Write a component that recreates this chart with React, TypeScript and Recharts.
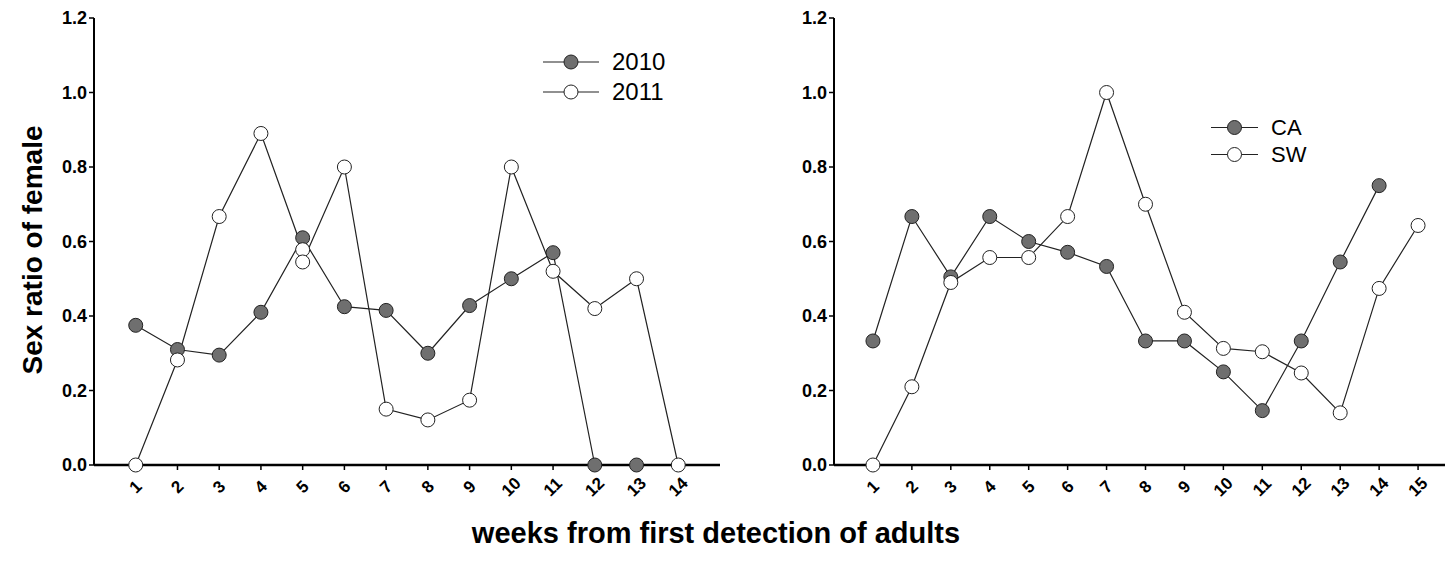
import { LineChart, Line, XAxis, YAxis, Legend } from "recharts";

// left panel: years
const weeks2010 = [1, 2, 3, 4, 5, 6, 7, 8, 9, 10, 11, 12, 13];
const ratio2010 = [0.375, 0.31, 0.295, 0.41, 0.61, 0.425, 0.415, 0.3, 0.428, 0.5, 0.57, 0, 0];
const weeks2011 = [1, 2, 3, 4, 5, 5, 6, 7, 8, 9, 10, 11, 12, 13, 14];
const ratio2011 = [0, 0.282, 0.667, 0.89, 0.578, 0.545, 0.8, 0.15, 0.121, 0.174, 0.8, 0.52, 0.42, 0.5, 0];

// right panel: sites
const weeksCA = [1, 2, 3, 4, 5, 6, 7, 8, 9, 10, 11, 12, 13, 14];
const ratioCA = [0.333, 0.667, 0.505, 0.667, 0.6, 0.571, 0.533, 0.333, 0.333, 0.25, 0.146, 0.333, 0.545, 0.75];
const weeksSW = [1, 2, 3, 4, 5, 6, 7, 8, 9, 10, 11, 12, 13, 14, 15];
const ratioSW = [0, 0.21, 0.49, 0.557, 0.557, 0.667, 1.0, 0.7, 0.41, 0.313, 0.304, 0.247, 0.14, 0.474, 0.643];

const leftTicks = [1, 2, 3, 4, 5, 6, 7, 8, 9, 10, 11, 12, 13, 14];
const rightTicks = [1, 2, 3, 4, 5, 6, 7, 8, 9, 10, 11, 12, 13, 14, 15];
const yTicks = [0, 0.2, 0.4, 0.6, 0.8, 1.0, 1.2];

const toRows = (weeks: number[], vals: number[]) => weeks.map((w, i) => ({ week: w, v: vals[i] }));

const FONT = '"Liberation Sans", Arial, sans-serif';
const NARROW = '"Liberation Sans Narrow", "Liberation Sans", Arial, sans-serif';
const GRAY = "#6f6f6f";

function WeekTick(props: any) {
  const { x, y, payload } = props;
  return (
    <g transform={`translate(${x},${y + 15})`}>
      <text
        textAnchor="middle"
        dominantBaseline="central"
        transform="rotate(-45)"
        fontFamily={NARROW}
        fontWeight="bold"
        fontSize={17}
        fill="#000"
      >
        {payload.value}
      </text>
    </g>
  );
}

function makeLegend(items: { name: string; fill: string }[], lineW: number, rowH: number, fontSize: number) {
  return () => (
    <div style={{ fontFamily: FONT }}>
      {items.map((it) => (
        <div key={it.name} style={{ display: "flex", alignItems: "center", height: rowH }}>
          <svg width={lineW} height={rowH}>
            <line x1={0} x2={lineW} y1={rowH / 2} y2={rowH / 2} stroke="#222" strokeWidth={1.2} />
            <circle cx={lineW / 2} cy={rowH / 2} r={7} fill={it.fill} stroke="#222" strokeWidth={1} />
          </svg>
          <span style={{ marginLeft: 13, fontSize, color: "#000", lineHeight: 1 }}>{it.name}</span>
        </div>
      ))}
    </div>
  );
}

const yAxisProps = {
  type: "number" as const,
  domain: [0, 1.2],
  ticks: yTicks,
  tickFormatter: (v: number) => v.toFixed(1),
  axisLine: { stroke: "#000", strokeWidth: 2 },
  tickLine: { stroke: "#000", strokeWidth: 1.5 },
  tickSize: 5,
  width: 40,
  tick: { fontFamily: NARROW, fontWeight: "bold", fontSize: 18, fill: "#000" },
};

function dot(fill: string) {
  return { r: 7, fill, stroke: "#222", strokeWidth: 1 };
}

export default function App() {
  return (
    <div
      style={{
        position: "absolute",
        left: 0,
        top: 0,
        width: 1445,
        height: 562,
        overflow: "hidden",
        background: "#fff",
      }}
    >
      <div style={{ position: "absolute", left: 0, top: 0 }}>
        <LineChart width={730} height={562} margin={{ top: 18, right: 10, left: 54, bottom: 57 }}>
          <XAxis
            type="number"
            dataKey="week"
            domain={[0, 15]}
            ticks={leftTicks}
            axisLine={{ stroke: "#000", strokeWidth: 2.5 }}
            tickLine={{ stroke: "#000", strokeWidth: 1.5 }}
            tickSize={5}
            height={40}
            tick={<WeekTick />}
          />
          <YAxis {...yAxisProps} />
          <Legend
            layout="horizontal"
            verticalAlign="middle"
            align="center"
            wrapperStyle={{ left: 543, top: 47, width: 170 }}
            content={makeLegend(
              [
                { name: "2010", fill: GRAY },
                { name: "2011", fill: "#fff" },
              ],
              56,
              30,
              24
            )}
          />
          <Line
            data={toRows(weeks2010, ratio2010)}
            dataKey="v"
            name="2010"
            stroke="#222"
            strokeWidth={1.2}
            dot={dot(GRAY)}
            isAnimationActive={false}
          />
          <Line
            data={toRows(weeks2011, ratio2011)}
            dataKey="v"
            name="2011"
            stroke="#222"
            strokeWidth={1.2}
            dot={dot("#fff")}
            isAnimationActive={false}
          />
        </LineChart>
      </div>

      <div style={{ position: "absolute", left: 740, top: 0 }}>
        <LineChart width={720} height={562} margin={{ top: 18, right: 3, left: 54, bottom: 57 }}>
          <XAxis
            type="number"
            dataKey="week"
            domain={[0, 16]}
            ticks={rightTicks}
            axisLine={{ stroke: "#000", strokeWidth: 2.5 }}
            tickLine={{ stroke: "#000", strokeWidth: 1.5 }}
            tickSize={5}
            height={40}
            tick={<WeekTick />}
          />
          <YAxis {...yAxisProps} />
          <Legend
            layout="horizontal"
            verticalAlign="middle"
            align="center"
            wrapperStyle={{ left: 471, top: 114, width: 130 }}
            content={makeLegend(
              [
                { name: "CA", fill: GRAY },
                { name: "SW", fill: "#fff" },
              ],
              47,
              27,
              22
            )}
          />
          <Line
            data={toRows(weeksCA, ratioCA)}
            dataKey="v"
            name="CA"
            stroke="#222"
            strokeWidth={1.2}
            dot={dot(GRAY)}
            isAnimationActive={false}
          />
          <Line
            data={toRows(weeksSW, ratioSW)}
            dataKey="v"
            name="SW"
            stroke="#222"
            strokeWidth={1.2}
            dot={dot("#fff")}
            isAnimationActive={false}
          />
        </LineChart>
      </div>

      <svg
        width={1445}
        height={562}
        style={{ position: "absolute", left: 0, top: 0, pointerEvents: "none" }}
      >
        <text
          transform="translate(32,250) rotate(-90)"
          textAnchor="middle"
          dominantBaseline="central"
          fontFamily={FONT}
          fontWeight="bold"
          fontSize={28}
          fill="#000"
        >
          Sex ratio of female
        </text>
        <text
          x={716}
          y={533}
          textAnchor="middle"
          dominantBaseline="central"
          fontFamily={FONT}
          fontWeight="bold"
          fontSize={29}
          fill="#000"
        >
          weeks from first detection of adults
        </text>
      </svg>
    </div>
  );
}
